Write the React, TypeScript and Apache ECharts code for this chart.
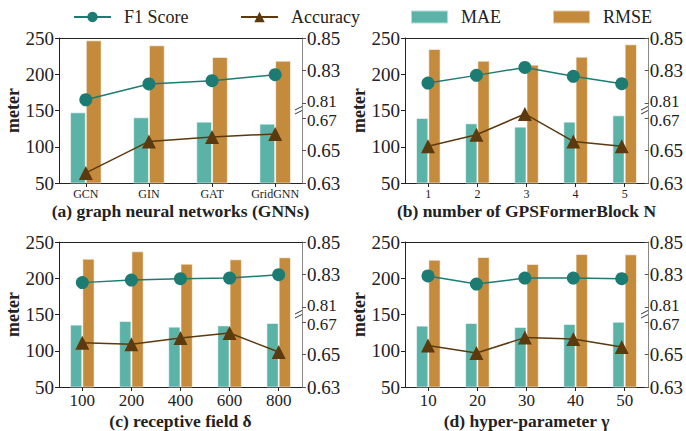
import React, { useEffect, useRef } from 'react';
import * as echarts from 'echarts';

// ---- data ----
const catsA = ['GCN', 'GIN', 'GAT', 'GridGNN'];
const maeA = [147.5, 140.6, 134.6, 131.8];
const rmseA = [246.8, 239.9, 223.8, 218.7];
const f1A = [0.812, 0.8217, 0.8237, 0.8274];
const accA = [0.6362, 0.6556, 0.6583, 0.6602];

const catsB = ['1', '2', '3', '4', '5'];
const maeB = [139.7, 132.3, 127.7, 134.6, 143.3];
const rmseB = [234.8, 218.7, 213.2, 224.3, 241.3];
const f1B = [0.8223, 0.827, 0.8319, 0.8264, 0.8219];
const accB = [0.6526, 0.6597, 0.6725, 0.6556, 0.6526];

const catsC = ['100', '200', '400', '600', '800'];
const maeC = [136, 141, 133.2, 135, 138.3];
const rmseC = [227, 237.1, 220.1, 226.1, 228.9];
const f1C = [0.825, 0.8266, 0.8274, 0.8278, 0.8299];
const accC = [0.6573, 0.6563, 0.6602, 0.6632, 0.6515];

const catsD = ['10', '20', '30', '40', '50'];
const maeD = [134.6, 138.3, 132.8, 136.9, 140.1];
const rmseD = [225.6, 229.3, 219.7, 233.4, 233];
const f1D = [0.8291, 0.8241, 0.8278, 0.8278, 0.8274];
const accD = [0.6556, 0.6509, 0.6604, 0.6596, 0.6546];

const panelTitles = [
  '(a) graph neural networks (GNNs)',
  '(b) number of GPSFormerBlock N',
  '(c) receptive field δ',
  '(d) hyper-parameter γ',
];
const legendNames = ['F1 Score', 'Accuracy', 'MAE', 'RMSE'];
const leftAxisRange = [50, 250, 50];
const f1AxisRange = [0.81, 0.85, 0.02];
const accAxisRange = [0.63, 0.67, 0.02];

const FONT = 'Liberation Serif';
const C_MAE = '#5bb3a8';
const C_RMSE = '#c58b3c';
const C_F1 = '#1c7b72';
const C_ACC = '#5c3a0e';
const DARK = '#222';

export default function App() {
  const ref = useRef<HTMLDivElement>(null);
  useEffect(() => {
    document.body.style.margin = '0';
    const chart = echarts.init(ref.current!, undefined, { renderer: 'svg' });

    const panels = [
      { cats: catsA, mae: maeA, rmse: rmseA, f1: f1A, acc: accA, left: 59, top: 38, labelSize: 12 },
      { cats: catsB, mae: maeB, rmse: rmseB, f1: f1B, acc: accB, left: 405, top: 38, labelSize: 12 },
      { cats: catsC, mae: maeC, rmse: rmseC, f1: f1C, acc: accC, left: 59, top: 242, labelSize: 17 },
      { cats: catsD, mae: maeD, rmse: rmseD, f1: f1D, acc: accD, left: 405, top: 242, labelSize: 17 },
    ];
    const W = 243;
    const H = 145;
    const SH = 65;
    const BW = 0.25;

    const grid: any[] = [];
    const xAxis: any[] = [];
    const yAxis: any[] = [];
    const series: any[] = [];
    const graphic: any[] = [];

    panels.forEach((p, k) => {
      const n = p.cats.length;
      const span = n - 1 + 2 * BW;
      const a = BW + 0.05 * span;
      const xmin = -a;
      const xmax = n - 1 + a;
      const pxPerUnit = W / (xmax - xmin);
      const idx = p.cats.map((_, i) => i);

      grid.push({ left: p.left, top: p.top, width: W, height: H });
      grid.push({ left: p.left, top: p.top, width: W, height: SH });
      grid.push({ left: p.left, top: p.top + H - SH, width: W, height: SH });
      const g0 = 3 * k;

      // x axes
      xAxis.push({
        type: 'value', gridIndex: g0, position: 'bottom', min: xmin, max: xmax,
        axisLine: { show: true, onZero: false, lineStyle: { color: DARK, width: 1 } },
        axisTick: { show: true, customValues: idx, length: 4, lineStyle: { color: DARK } },
        axisLabel: {
          customValues: idx, formatter: (v: number) => p.cats[Math.round(v)],
          fontSize: p.labelSize, fontFamily: FONT, color: DARK, margin: 5,
        },
        splitLine: { show: false },
        name: panelTitles[k], nameLocation: 'middle', nameGap: p.labelSize > 14 ? 25 : 19,
        nameTextStyle: { fontWeight: 'bold', fontSize: 17.5, fontFamily: FONT, color: DARK },
      });
      xAxis.push({
        type: 'value', gridIndex: g0, position: 'top', min: xmin, max: xmax,
        axisLine: { show: true, onZero: false, lineStyle: { color: DARK, width: 1 } },
        axisTick: { show: false }, axisLabel: { show: false }, splitLine: { show: false },
      });
      xAxis.push({ type: 'value', gridIndex: g0 + 1, min: xmin, max: xmax, show: false, splitLine: { show: false } });
      xAxis.push({ type: 'value', gridIndex: g0 + 2, min: xmin, max: xmax, show: false, splitLine: { show: false } });

      // y axes
      yAxis.push({
        type: 'value', gridIndex: g0, position: 'left',
        min: leftAxisRange[0], max: leftAxisRange[1], interval: leftAxisRange[2],
        axisLine: { show: true, onZero: false, lineStyle: { color: DARK } },
        axisTick: { show: true, length: 4, lineStyle: { color: DARK } },
        axisLabel: { fontSize: 19, fontFamily: FONT, color: DARK, margin: 5 },
        splitLine: { show: false },
        name: 'meter', nameLocation: 'middle', nameGap: 37, nameRotate: 90,
        nameTextStyle: { fontWeight: 'bold', fontSize: 18, fontFamily: FONT, color: DARK },
      });
      yAxis.push({
        type: 'value', gridIndex: g0, position: 'right', min: 0, max: 1,
        axisLine: { show: true, onZero: false, lineStyle: { color: '#888' } },
        axisTick: { show: false }, axisLabel: { show: false }, splitLine: { show: false },
      });
      // boundary value (next to the axis break) is drawn a bit smaller and nudged away from the break
      const sectionAxis = (gi: number, r: number[], breakVal: number, nudge: number[]) => ({
        type: 'value', gridIndex: gi, position: 'right', min: r[0], max: r[1], interval: r[2],
        axisLine: { show: false, onZero: false },
        axisTick: { show: true, length: 4, lineStyle: { color: '#555' } },
        axisLabel: {
          fontSize: 19, fontFamily: FONT, color: DARK, margin: 5,
          formatter: (v: number) =>
            Math.abs(v - breakVal) < 1e-6 ? `{s|${v.toFixed(2)}}` : v.toFixed(2),
          rich: { s: { fontSize: 17, fontFamily: FONT, color: DARK, padding: nudge } },
        },
        splitLine: { show: false },
      });
      yAxis.push(sectionAxis(g0 + 1, f1AxisRange, f1AxisRange[0], [0, 0, 4, 0]));
      yAxis.push(sectionAxis(g0 + 2, accAxisRange, accAxisRange[1], [4, 0, 0, 0]));

      const a0 = 4 * k;
      const barW = BW * pxPerUnit;
      series.push({
        name: 'MAE', type: 'bar', xAxisIndex: a0, yAxisIndex: a0,
        data: p.mae.map((v, i) => [i, v]), barWidth: barW, barGap: '0%',
        itemStyle: { color: C_MAE, borderColor: 'rgba(255,255,255,0.55)', borderWidth: 1 },
      });
      series.push({
        name: 'RMSE', type: 'bar', xAxisIndex: a0, yAxisIndex: a0,
        data: p.rmse.map((v, i) => [i, v]), barWidth: barW, barGap: '0%',
        itemStyle: { color: C_RMSE, borderColor: 'rgba(255,255,255,0.55)', borderWidth: 1 },
      });
      series.push({
        name: 'F1 Score', type: 'line', xAxisIndex: a0 + 2, yAxisIndex: a0 + 2,
        data: p.f1.map((v, i) => [i, v]), symbol: 'circle', symbolSize: 13, clip: false, z: 5,
        lineStyle: { color: C_F1, width: 1.5 }, itemStyle: { color: C_F1 },
      });
      series.push({
        name: 'Accuracy', type: 'line', xAxisIndex: a0 + 3, yAxisIndex: a0 + 3,
        data: p.acc.map((v, i) => [i, v]), symbol: 'triangle', symbolSize: 14, clip: false, z: 5,
        lineStyle: { color: C_ACC, width: 1.5 }, itemStyle: { color: C_ACC },
      });

      // break marks on the right axis
      const ax = p.left + W;
      const yc = p.top + SH + (H - 2 * SH) / 2;
      graphic.push({ type: 'line', shape: { x1: ax - 7, y1: yc - 0.5, x2: ax + 1, y2: yc - 4.5 }, style: { stroke: '#333', lineWidth: 1 } });
      graphic.push({ type: 'line', shape: { x1: ax - 7, y1: yc + 3.5, x2: ax + 1, y2: yc - 0.5 }, style: { stroke: '#333', lineWidth: 1 } });
    });

    const legendLefts = [68, 235, 405, 547];
    const legend = legendNames.map((name, i) => ({
      left: legendLefts[i], top: 3, itemWidth: 37, itemHeight: 13,
      textStyle: { fontSize: 18, fontFamily: FONT, color: DARK, padding: [0, 0, 0, 8] },
      data: [i >= 2 ? { name, icon: 'rect' } : { name }],
    }));

    chart.setOption({
      animation: false,
      textStyle: { fontFamily: FONT },
      legend,
      grid, xAxis, yAxis, series, graphic,
    });
    return () => chart.dispose();
  }, []);
  return <div ref={ref} style={{ width: 686, height: 431 }} />;
}
